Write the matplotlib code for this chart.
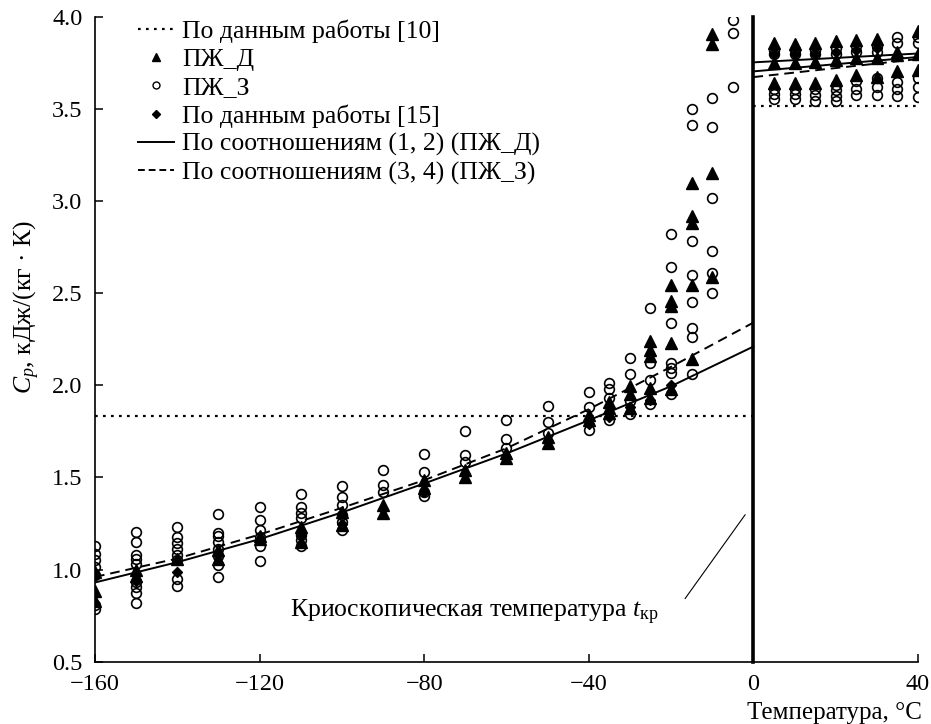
import numpy as np
import matplotlib.pyplot as plt
from matplotlib.lines import Line2D

plt.rcParams['font.family'] = 'Liberation Serif'
plt.rcParams['mathtext.fontset'] = 'custom'
plt.rcParams['mathtext.rm'] = 'Liberation Serif'
plt.rcParams['mathtext.it'] = 'Liberation Serif:italic'

# --- data ---
temps = [-160, -150, -140, -130, -120, -110, -100, -90, -80, -70, -60, -50,
         -40, -35, -30, -25, -20, -15, -10, -5, 5, 10, 15, 20, 25, 30, 35, 40]

# ПЖ_З (open circles)
pzh_z = [
    [1.13, 1.085, 1.05, 1.015, 0.97, 0.81, 0.785],
    [1.205, 1.15, 1.08, 1.06, 1.03, 0.93, 0.905, 0.875, 0.82],
    [1.23, 1.175, 1.145, 1.11, 1.08, 1.05, 0.95, 0.91],
    [1.30, 1.20, 1.18, 1.15, 1.11, 1.075, 1.025, 0.96],
    [1.34, 1.27, 1.215, 1.175, 1.13, 1.045],
    [1.41, 1.34, 1.305, 1.28, 1.185, 1.16, 1.13],
    [1.455, 1.395, 1.35, 1.295, 1.26, 1.215],
    [1.54, 1.46, 1.42],
    [1.625, 1.53, 1.42, 1.40],
    [1.75, 1.62, 1.585],
    [1.81, 1.71, 1.66],
    [1.885, 1.80, 1.74],
    [1.965, 1.88, 1.76],
    [2.015, 1.98, 1.93, 1.81],
    [2.15, 2.06, 1.915, 1.845],
    [2.42, 2.12, 2.03, 1.90],
    [2.82, 2.64, 2.34, 2.12, 2.095, 2.065, 1.95],
    [3.50, 3.41, 2.785, 2.60, 2.45, 2.31, 2.26, 2.06],
    [3.56, 3.40, 3.015, 2.73, 2.61, 2.50],
    [3.98, 3.91, 3.62],
    [3.82, 3.80, 3.61, 3.58, 3.555],
    [3.82, 3.80, 3.61, 3.58, 3.555],
    [3.82, 3.80, 3.605, 3.575, 3.54],
    [3.83, 3.80, 3.63, 3.60, 3.57, 3.54],
    [3.84, 3.81, 3.65, 3.61, 3.575],
    [3.84, 3.81, 3.665, 3.62, 3.575],
    [3.89, 3.857, 3.648, 3.61, 3.57],
    [3.89, 3.857, 3.666, 3.621, 3.566],
]

# ПЖ_Д (filled triangles)
pzh_d = [
    [0.985, 0.885, 0.83],
    [1.0, 0.965],
    [1.06],
    [1.105, 1.06],
    [1.18, 1.165],
    [1.23, 1.15],
    [1.31, 1.24],
    [1.35, 1.305],
    [1.485, 1.44],
    [1.54, 1.505],
    [1.63, 1.605],
    [1.72, 1.685],
    [1.84, 1.81],
    [1.91, 1.875, 1.85],
    [1.995, 1.955, 1.875],
    [2.24, 2.19, 2.16, 1.985, 1.93],
    [2.545, 2.455, 2.43, 2.23, 1.98],
    [3.10, 2.92, 2.88, 2.545, 2.14],
    [3.905, 3.85, 3.15, 2.59],
    [],
    [3.855, 3.75, 3.64],
    [3.85, 3.75, 3.64],
    [3.855, 3.755, 3.64],
    [3.87, 3.765, 3.657],
    [3.875, 3.775, 3.684],
    [3.88, 3.775, 3.67],
    [3.81, 3.79, 3.703],
    [3.92, 3.80, 3.71],
]

# По данным работы [15] (filled diamonds)
ref15_t = [-160, -150, -140, -130, -120, -110, -100, -90, -80, -70, -60, -50,
           -40, -35, -30, -25, -20, 5, 10, 15, 20, 25, 30]
ref15_cp = [0.97, 0.94, 0.985, 1.08, 1.16, 1.19, 1.25, 1.33, 1.42, 1.52, 1.61,
            1.70, 1.79, 1.83, 1.88, 1.92, 2.0, 3.80, 3.80, 3.80, 3.81, 3.82, 3.83]

# По данным работы [10] (dotted, two levels)
ref10_left_t = [-160, 0]
ref10_left_cp = [1.835, 1.835]
ref10_right_t = [0, 40]
ref10_right_cp = [3.515, 3.515]

# По соотношениям (1, 2) и (3, 4)
curve_t = [-160, -140, -120, -100, -80, -60, -40, -20, 0]
curve_12 = [0.93, 1.04, 1.165, 1.31, 1.467, 1.63, 1.81, 1.995, 2.21]
curve_34 = [0.96, 1.06, 1.19, 1.335, 1.485, 1.658, 1.87, 2.10, 2.34]
right_t = [0, 40]
right_12a = [3.752, 3.80]
right_12b = [3.703, 3.781]
right_34 = [3.672, 3.77]

fig = plt.figure(figsize=(9.31, 7.24), dpi=100)
ax = fig.add_axes([0.102, 0.086, 0.884, 0.891])

dots = (0, (1.2, 2.4))
ax.plot(ref10_left_t, ref10_left_cp, color='black', lw=1.6, ls=dots)
ax.plot(ref10_right_t, ref10_right_cp, color='black', lw=1.6, ls=dots)

ax.plot(curve_t, curve_12, color='black', lw=1.4)
ax.plot(curve_t, curve_34, color='black', lw=1.4, ls=(0, (5, 3)))
ax.plot(right_t, right_12a, color='black', lw=1.4)
ax.plot(right_t, right_12b, color='black', lw=1.4)
ax.plot(right_t, right_34, color='black', lw=1.4, ls=(0, (5, 3)))

tz = [t for t, vals in zip(temps, pzh_z) for _ in vals]
cz = [v for vals in pzh_z for v in vals]
td = [t for t, vals in zip(temps, pzh_d) for _ in vals]
cd = [v for vals in pzh_d for v in vals]

ax.plot(ref15_t, ref15_cp, 'D', color='black', ms=5.5, zorder=3)
ax.plot(td, cd, '^', color='black', ms=8, zorder=4)
ax.plot(tz, cz, 'o', mfc='none', mec='black', mew=1.2, ms=7, zorder=5)

# cryoscopic temperature
ax.plot([0, 0], [0.5, 4.0], color='black', lw=2.6, clip_on=False, zorder=6)
ax.annotate('', xy=(-1.6, 1.31), xytext=(-17, 0.83),
            arrowprops=dict(arrowstyle='-', color='black', lw=0.8))
ax.text(-112.5, 0.765, 'Криоскопическая температура $t_{\\mathrm{кр}}$',
        fontsize=18.5, va='center', ha='left')

ax.set_xlim(-160, 40)
ax.set_ylim(0.5, 4.0)
ax.set_xticks([-160, -120, -80, -40, 0, 40])
ax.set_xticklabels(['\u2212160', '\u2212120', '\u221280', '\u221240', '0', '40'])
ax.set_yticks(np.arange(0.5, 4.01, 0.5))
ax.set_yticklabels([f'{v:.1f}' for v in np.arange(0.5, 4.01, 0.5)])
ax.tick_params(direction='in', length=6, width=1.1, labelsize=17.5)
ax.tick_params(axis='x', pad=9)
ax.tick_params(axis='y', pad=9)
for s in ['top', 'right']:
    ax.spines[s].set_visible(False)
for s in ['left', 'bottom']:
    ax.spines[s].set_linewidth(1.2)

ax.set_xlabel('Температура, °С', fontsize=18, ha='right', va='center')
ax.xaxis.set_label_coords(1.005, -0.08)
ax.set_ylabel('$C_p$, кДж/(кг · К)', fontsize=18.5, va='center')
ax.yaxis.set_label_coords(-0.083, 0.55)

handles = [
    Line2D([], [], color='black', lw=1.6, ls=dots),
    Line2D([], [], marker='^', color='black', ls='none', ms=6),
    Line2D([], [], marker='o', mfc='none', mec='black', ls='none', ms=5),
    Line2D([], [], marker='D', color='black', ls='none', ms=4.5),
    Line2D([], [], color='black', lw=1.4),
    Line2D([], [], color='black', lw=1.4, ls=(0, (3.5, 2))),
]
labels = ['По данным работы [10]', 'ПЖ_Д', 'ПЖ_З', 'По данным работы [15]',
          'По соотношениям (1, 2) (ПЖ_Д)', 'По соотношениям (3, 4) (ПЖ_З)']
ax.legend(handles, labels, loc='upper left', bbox_to_anchor=(0.04, 1.012),
          frameon=False, fontsize=18.5, handlelength=1.4, handletextpad=0.3,
          labelspacing=0.2, borderaxespad=0)

fig.savefig('out.png', dpi=100)
